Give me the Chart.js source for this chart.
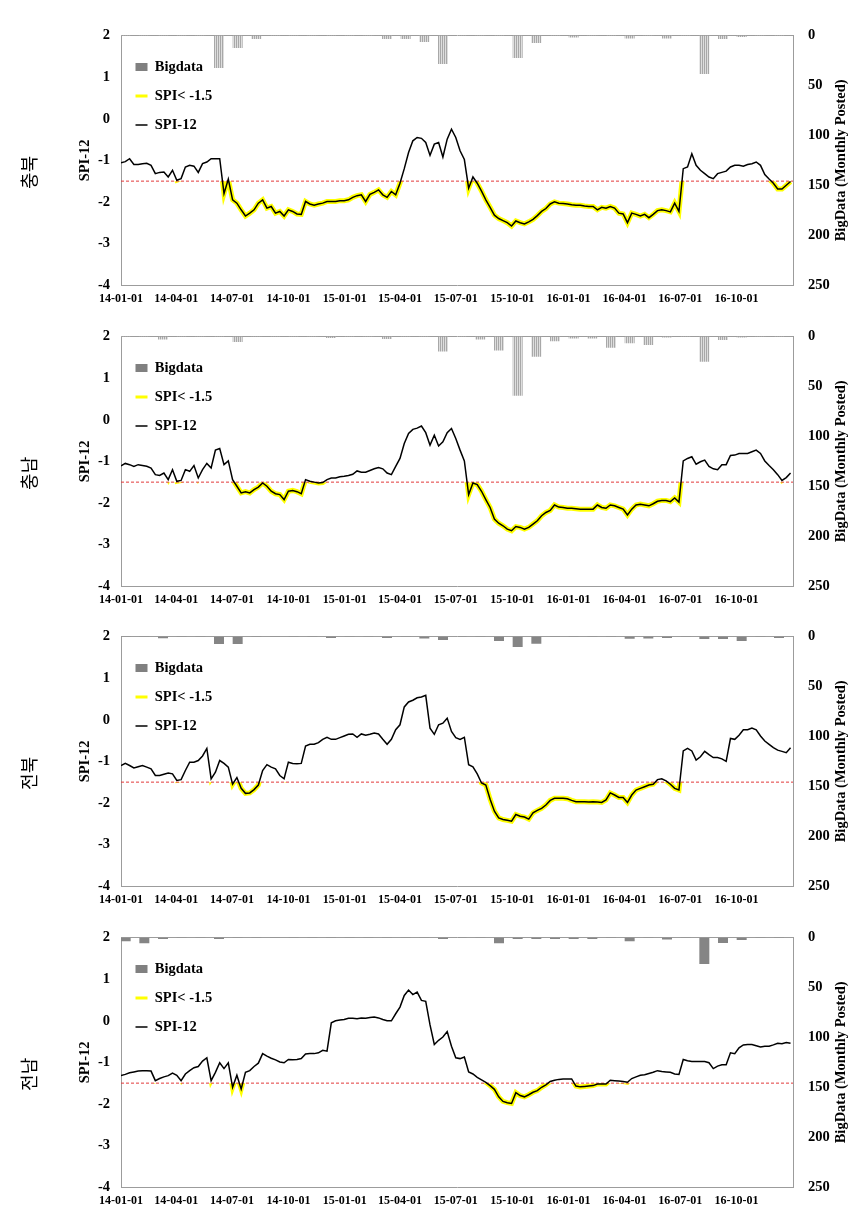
<!DOCTYPE html>
<html>
<head>
<meta charset="utf-8">
<script src="https://cdn.jsdelivr.net/npm/chart.js@4.4.1/dist/chart.umd.min.js"></script>
<style>
  body { margin: 0; background: #fff; width: 868px; height: 1225px; position: relative; overflow: hidden; }
  canvas { position: absolute; left: 0; }
</style>
</head>
<body>
<canvas id="c1" width="868" height="300" style="top:12px"></canvas>
<canvas id="c2" width="868" height="300" style="top:313px"></canvas>
<canvas id="c3" width="868" height="300" style="top:613px"></canvas>
<canvas id="c4" width="868" height="300" style="top:914px"></canvas>
<script>
// ============================
// DATA
// ============================
const regions = ["충북", "충남", "전북", "전남"];

// x axis ticks (start of each quarter)
const tickLabels = ["14-01-01", "14-04-01", "14-07-01", "14-10-01", "15-01-01", "15-04-01",
                    "15-07-01", "15-10-01", "16-01-01", "16-04-01", "16-07-01", "16-10-01"];

// months for the Bigdata bars (2014-01 .. 2016-12)
const monthLabels = [];
["14", "15", "16"].forEach(y => {
  for (let m = 1; m <= 12; m++) monthLabels.push(y + "-" + String(m).padStart(2, "0"));
});

// monthly posted counts
const bigChungbuk = [0, 0, 0, 0, 0, 32, 12, 3, 0, 0, 0, 0,
                     0, 0, 3, 3, 6, 28, 0, 0, 0, 22, 7, 0,
                     1.5, 0, 0, 2.5, 0, 2.5, 0, 38, 3, 1, 0, 0];
const bigChungnam = [0, 0, 2.5, 0, 0, 0, 5, 0, 0, 0, 0, 1,
                     0, 0, 2, 0, 0, 14.5, 0, 2.5, 13.5, 59, 19.7, 4.3,
                     1.5, 1.5, 10.7, 6.3, 8, 0.5, 0, 24.7, 3, 0.5, 0, 0];
const bigJeonbuk = [0, 0, 1.3, 0, 0, 7, 7, 0, 0, 0, 0, 1,
                    0, 0, 1, 0, 1.5, 3, 0, 0, 4, 10, 6.7, 0,
                    0, 0, 0, 1.7, 1.5, 1, 0, 2, 2, 4, 0, 1];
const bigJeonnam = [3.3, 5.3, 1, 0, 0, 1, 0, 0, 0, 0, 0, 0,
                    0, 0, 0, 0, 0, 1, 0, 0, 5.3, 1, 1, 1,
                    1, 1, 0, 3.3, 0, 1.5, 0, 26, 5, 2, 0, 0];

// SPI-12, one reading per week from 2014-01-01
const spiChungbuk = [
  -1.06,-1.03,-0.96,-1.10,-1.10,-1.08,-1.07,-1.12,-1.32,-1.29,
  -1.28,-1.40,-1.24,-1.48,-1.44,-1.16,-1.12,-1.14,-1.29,-1.08,
  -1.04,-0.96,-0.96,-0.96,-1.80,-1.45,-1.95,-2.03,-2.19,-2.34,
  -2.27,-2.19,-2.03,-1.95,-2.15,-2.11,-2.27,-2.23,-2.34,-2.19,
  -2.23,-2.29,-2.30,-1.99,-2.05,-2.08,-2.05,-2.03,-1.99,-1.99,
  -1.99,-1.97,-1.97,-1.95,-1.89,-1.85,-1.83,-1.99,-1.82,-1.77,
  -1.71,-1.83,-1.89,-1.75,-1.83,-1.55,-1.20,-0.81,-0.53,-0.45,
  -0.47,-0.57,-0.88,-0.61,-0.57,-0.92,-0.49,-0.25,-0.45,-0.77,
  -0.98,-1.67,-1.40,-1.55,-1.74,-1.95,-2.13,-2.32,-2.40,-2.45,
  -2.50,-2.58,-2.46,-2.50,-2.53,-2.48,-2.42,-2.33,-2.23,-2.16,
  -2.05,-2.00,-2.03,-2.04,-2.05,-2.07,-2.08,-2.08,-2.10,-2.11,
  -2.11,-2.19,-2.13,-2.15,-2.11,-2.15,-2.27,-2.29,-2.50,-2.27,
  -2.30,-2.34,-2.30,-2.38,-2.30,-2.21,-2.19,-2.21,-2.24,-2.03,
  -2.23,-1.20,-1.16,-0.84,-1.12,-1.24,-1.32,-1.40,-1.44,-1.32,
  -1.29,-1.26,-1.16,-1.12,-1.12,-1.14,-1.10,-1.08,-1.04,-1.12,
  -1.34,-1.45,-1.55,-1.69,-1.69,-1.60,-1.51];
const spiChungnam = [
  -1.11,-1.05,-1.08,-1.12,-1.08,-1.10,-1.12,-1.16,-1.32,-1.34,
  -1.28,-1.44,-1.20,-1.48,-1.46,-1.20,-1.24,-1.10,-1.40,-1.20,
  -1.05,-1.16,-0.73,-0.69,-1.08,-0.99,-1.44,-1.60,-1.76,-1.73,
  -1.76,-1.68,-1.62,-1.52,-1.60,-1.72,-1.78,-1.80,-1.92,-1.72,
  -1.70,-1.73,-1.78,-1.44,-1.48,-1.50,-1.52,-1.51,-1.44,-1.40,
  -1.40,-1.37,-1.36,-1.34,-1.31,-1.23,-1.26,-1.26,-1.22,-1.18,
  -1.15,-1.18,-1.28,-1.32,-1.12,-0.93,-0.57,-0.33,-0.23,-0.20,
  -0.15,-0.31,-0.61,-0.37,-0.63,-0.53,-0.31,-0.21,-0.45,-0.73,
  -0.99,-1.80,-1.52,-1.56,-1.72,-1.92,-2.11,-2.39,-2.49,-2.55,
  -2.63,-2.67,-2.57,-2.59,-2.63,-2.59,-2.51,-2.43,-2.31,-2.23,
  -2.18,-2.05,-2.10,-2.11,-2.13,-2.13,-2.14,-2.15,-2.15,-2.15,
  -2.15,-2.05,-2.11,-2.13,-2.05,-2.07,-2.11,-2.15,-2.29,-2.15,
  -2.05,-2.03,-2.05,-2.07,-2.02,-1.96,-1.94,-1.94,-1.97,-1.88,
  -1.98,-0.99,-0.93,-0.89,-1.07,-1.01,-0.97,-1.12,-1.18,-1.20,
  -1.08,-1.08,-0.86,-0.85,-0.81,-0.81,-0.81,-0.77,-0.73,-0.81,
  -0.99,-1.10,-1.20,-1.32,-1.46,-1.39,-1.28];
const spiJeonbuk = [
  -1.10,-1.05,-1.10,-1.16,-1.13,-1.10,-1.14,-1.18,-1.34,-1.34,
  -1.31,-1.28,-1.30,-1.46,-1.44,-1.22,-1.02,-1.02,-0.98,-0.87,
  -0.69,-1.42,-1.26,-0.98,-1.05,-1.14,-1.55,-1.39,-1.65,-1.77,
  -1.76,-1.68,-1.57,-1.22,-1.08,-1.14,-1.18,-1.34,-1.42,-1.02,
  -1.05,-1.06,-1.05,-0.63,-0.59,-0.59,-0.55,-0.47,-0.42,-0.47,
  -0.47,-0.43,-0.39,-0.35,-0.34,-0.42,-0.34,-0.37,-0.35,-0.32,
  -0.34,-0.47,-0.59,-0.47,-0.24,-0.12, 0.31, 0.43, 0.47, 0.53,
   0.55, 0.59,-0.20,-0.35,-0.12,-0.08, 0.04,-0.28,-0.43,-0.47,
  -0.42,-1.08,-1.13,-1.30,-1.52,-1.57,-1.91,-2.20,-2.36,-2.40,
  -2.42,-2.44,-2.28,-2.32,-2.34,-2.39,-2.24,-2.18,-2.13,-2.05,
  -1.94,-1.89,-1.89,-1.89,-1.90,-1.94,-1.97,-1.97,-1.97,-1.98,
  -1.97,-1.98,-1.99,-1.93,-1.76,-1.81,-1.87,-1.87,-1.99,-1.81,
  -1.69,-1.65,-1.61,-1.57,-1.55,-1.44,-1.42,-1.47,-1.55,-1.65,
  -1.69,-0.75,-0.69,-0.75,-0.97,-0.89,-0.76,-0.84,-0.91,-0.91,
  -0.94,-1.00,-0.45,-0.47,-0.37,-0.24,-0.24,-0.20,-0.24,-0.39,
  -0.51,-0.59,-0.67,-0.73,-0.76,-0.79,-0.67];
const spiJeonnam = [
  -1.32,-1.29,-1.25,-1.23,-1.21,-1.20,-1.20,-1.21,-1.44,-1.39,
  -1.35,-1.32,-1.26,-1.31,-1.44,-1.28,-1.20,-1.13,-1.10,-0.97,
  -0.89,-1.44,-1.24,-1.01,-1.15,-1.01,-1.60,-1.31,-1.64,-1.24,
  -1.20,-1.10,-1.02,-0.79,-0.85,-0.90,-0.94,-0.99,-1.01,-0.93,
  -0.94,-0.93,-0.91,-0.80,-0.79,-0.79,-0.77,-0.71,-0.73,-0.05,
   0.00, 0.02, 0.03, 0.06, 0.06, 0.05, 0.07, 0.06, 0.08, 0.09,
   0.07, 0.03, 0.00, 0.00, 0.17, 0.33, 0.61, 0.74, 0.63, 0.69,
   0.49, 0.47,-0.10,-0.57,-0.47,-0.39,-0.26,-0.61,-0.89,-0.91,
  -0.87,-1.23,-1.28,-1.36,-1.42,-1.48,-1.56,-1.65,-1.83,-1.94,
  -1.97,-1.99,-1.73,-1.80,-1.83,-1.78,-1.72,-1.68,-1.60,-1.54,
  -1.46,-1.43,-1.41,-1.40,-1.40,-1.40,-1.57,-1.59,-1.58,-1.57,
  -1.56,-1.52,-1.52,-1.52,-1.43,-1.44,-1.45,-1.46,-1.48,-1.39,
  -1.35,-1.31,-1.30,-1.27,-1.24,-1.20,-1.22,-1.23,-1.24,-1.28,
  -1.29,-0.93,-0.96,-0.98,-0.98,-0.98,-0.98,-1.01,-1.15,-1.09,
  -1.06,-1.06,-0.77,-0.79,-0.65,-0.58,-0.57,-0.57,-0.60,-0.63,
  -0.61,-0.61,-0.58,-0.54,-0.55,-0.52,-0.54];

const SPI_THRESHOLD = -1.5;
const DAY_MAX = 1096; // 2014-01-01 .. 2016-12-31

// ============================
// HELPERS
// ============================
const DAY0 = Date.UTC(2014, 0, 1);
function dayOf(label) {
  const [y, m, d] = label.split("-").map(Number);
  return Math.round((Date.UTC(2000 + y, m - 1, d) - DAY0) / 864e5);
}
const tickDays = tickLabels.map(dayOf);

function weekly(values) {
  return values.map((v, i) => ({ x: i * 7, y: v }));
}

// hatched fill used for the bars of the first two panels
const stripeFill = (() => {
  const c = document.createElement("canvas");
  c.width = 2; c.height = 1;
  const g = c.getContext("2d");
  g.fillStyle = "#a8a8a8"; g.fillRect(0, 0, 1, 1);
  g.fillStyle = "#dedede"; g.fillRect(1, 0, 1, 1);
  return g.createPattern(c, "repeat");
})();

// ============================
// PLUGINS
// ============================
const clipBelow = {
  id: "clipBelow",
  beforeDatasetDraw(chart, args) {
    const ds = chart.data.datasets[args.index];
    if (ds.clipBelow === undefined) return;
    const { ctx, chartArea } = chart;
    const y = chart.scales.y.getPixelForValue(ds.clipBelow);
    ctx.save();
    ctx.beginPath();
    ctx.rect(chartArea.left, y, chartArea.right - chartArea.left, chartArea.bottom - y + 5);
    ctx.clip();
  },
  afterDatasetDraw(chart, args) {
    if (chart.data.datasets[args.index].clipBelow === undefined) return;
    chart.ctx.restore();
  }
};

const sideTitles = {
  id: "sideTitles",
  afterDraw(chart, args, opts) {
    const { ctx, chartArea } = chart;
    const mid = (chartArea.top + chartArea.bottom) / 2;
    ctx.save();
    ctx.fillStyle = "#000";
    ctx.textAlign = "center";
    ctx.textBaseline = "middle";
    ctx.translate(841, mid);
    ctx.rotate(-Math.PI / 2);
    ctx.font = "bold 14.5px 'Liberation Serif', serif";
    ctx.fillText("BigData (Monthly Posted)", 0, 0);
    ctx.restore();

    ctx.save();
    ctx.fillStyle = "#000";
    ctx.textAlign = "center";
    ctx.textBaseline = "middle";
    ctx.translate(29, mid + 12);
    ctx.rotate(-Math.PI / 2);
    ctx.font = "18px 'Noto Sans CJK KR', sans-serif";
    ctx.fillText(opts.region, 0, 0);
    ctx.restore();
  }
};

// ============================
// CHARTS
// ============================
Chart.defaults.font.family = "'Liberation Serif', 'Times New Roman', serif";
Chart.defaults.font.weight = "bold";
Chart.defaults.font.size = 14.5;
Chart.defaults.color = "#000";

const panels = [
  { id: "c1", spi: spiChungbuk, big: bigChungbuk, fill: stripeFill },
  { id: "c2", spi: spiChungnam, big: bigChungnam, fill: stripeFill },
  { id: "c3", spi: spiJeonbuk, big: bigJeonbuk, fill: "#858585" },
  { id: "c4", spi: spiJeonnam, big: bigJeonnam, fill: "#858585" }
];

panels.forEach((p, k) => {
  const axisBorder = { display: true, color: "#9c9c9c", width: 1 };
  new Chart(document.getElementById(p.id), {
    type: "line",
    data: {
      datasets: [
        {
          type: "bar",
          label: "Bigdata",
          data: p.big,
          xAxisID: "xb",
          yAxisID: "y2",
          backgroundColor: p.fill,
          borderWidth: 0,
          barPercentage: 1,
          categoryPercentage: 1,
          pointStyle: "rect",
          order: 3
        },
        {
          label: "SPI< -1.5",
          data: weekly(p.spi),
          xAxisID: "x",
          yAxisID: "y",
          borderColor: "#ffff00",
          borderWidth: 5,
          pointRadius: 0,
          pointStyle: "line",
          tension: 0,
          clipBelow: SPI_THRESHOLD,
          order: 2
        },
        {
          label: "SPI-12",
          data: weekly(p.spi),
          xAxisID: "x",
          yAxisID: "y",
          borderColor: "#000",
          borderWidth: 1.5,
          pointRadius: 0,
          pointStyle: "line",
          tension: 0,
          order: 0
        },
        {
          label: "threshold",
          data: [{ x: 0, y: SPI_THRESHOLD }, { x: DAY_MAX, y: SPI_THRESHOLD }],
          xAxisID: "x",
          yAxisID: "y",
          borderColor: "#e2383a",
          borderWidth: 1,
          borderDash: [3, 2],
          pointRadius: 0,
          order: 1
        }
      ]
    },
    options: {
      responsive: false,
      animation: false,
      events: [],
      layout: { padding: { left: 50, top: 20, right: 0, bottom: 0 } },
      plugins: {
        tooltip: { enabled: false },
        sideTitles: { region: regions[k] },
        legend: {
          position: "chartArea",
          align: "start",
          // empty title only pushes the entries down inside the plot
          title: { display: true, text: " ", font: { size: 1 }, padding: { top: 0, bottom: 32 } },
          labels: {
            usePointStyle: true,
            pointStyleWidth: 12,
            boxHeight: 8,
            padding: 14.5,
            font: { size: 14.5, weight: "bold" },
            color: "#000",
            filter: item => item.text !== "threshold",
            sort: (a, b) => a.datasetIndex - b.datasetIndex,
            generateLabels: chart =>
              Chart.defaults.plugins.legend.labels.generateLabels(chart).map(item => {
                if (item.text === "Bigdata") { item.fillStyle = "#808080"; item.lineWidth = 0; }
                if (item.text === "SPI< -1.5") { item.lineWidth = 3; }
                return item;
              })
          }
        }
      },
      scales: {
        x: {
          type: "linear",
          position: "bottom",
          min: 0,
          max: DAY_MAX,
          grid: { display: false, drawTicks: false },
          border: axisBorder,
          afterBuildTicks: s => { s.ticks = tickDays.map(v => ({ value: v })); },
          afterFit: s => { s.height = 27; },
          ticks: {
            callback: v => tickLabels[tickDays.indexOf(v)],
            font: { size: 12, weight: "bold" },
            color: "#000",
            padding: 7,
            maxRotation: 0,
            autoSkip: false
          }
        },
        xb: {
          type: "category",
          labels: monthLabels,
          position: "top",
          offset: true,
          grid: { display: false, drawTicks: false },
          border: axisBorder,
          ticks: { display: false },
          afterFit: s => { s.height = 0; }
        },
        y: {
          type: "linear",
          position: "left",
          min: -4,
          max: 2,
          grid: { display: false, drawTicks: false },
          border: axisBorder,
          afterFit: s => { s.width = 71; },
          ticks: { stepSize: 1, padding: 11, font: { size: 14.5, weight: "bold" } },
          title: {
            display: true,
            text: "SPI-12",
            font: { size: 14.5, weight: "bold" },
            padding: { top: 27, bottom: 0 }
          }
        },
        y2: {
          type: "linear",
          position: "right",
          min: 0,
          max: 250,
          reverse: true,
          grid: { display: false, drawTicks: false },
          border: axisBorder,
          afterFit: s => { s.width = 75; },
          ticks: { stepSize: 50, padding: 15, font: { size: 14.5, weight: "bold" } }
        }
      }
    },
    plugins: [clipBelow, sideTitles]
  });
});
</script>
</body>
</html>
